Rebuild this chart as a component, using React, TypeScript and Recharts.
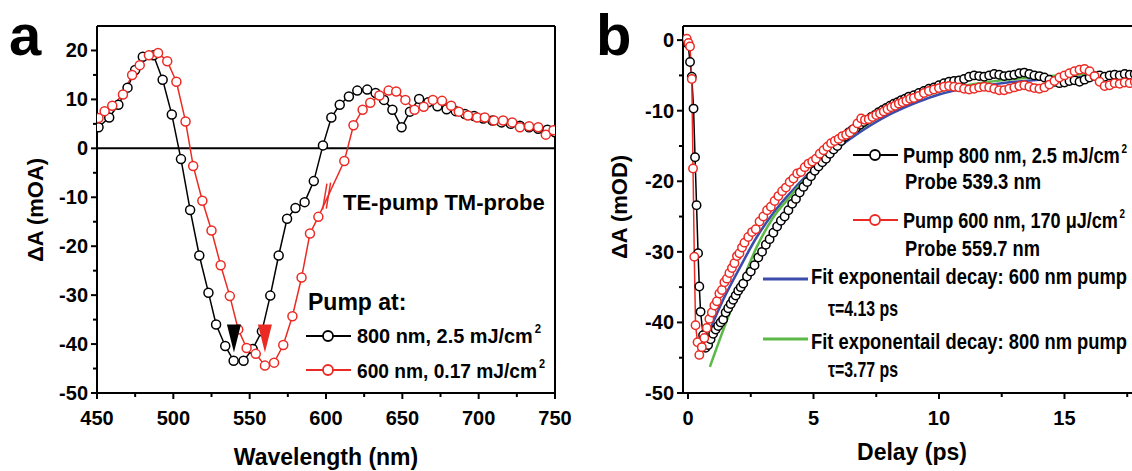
import React from 'react';
import { ComposedChart, Line, Scatter, XAxis, YAxis, ReferenceLine } from 'recharts';

const FONT = "'Liberation Sans', Arial, sans-serif";
const RED = '#ec2a24';
const BLUE = '#3a4dab';
const GREEN = '#5cb947';

// panel a: transient spectra
const wl800 = [451, 458, 464, 470, 475, 480, 487, 493, 499, 505, 511, 517, 523, 528, 534, 539.5, 546, 552, 558, 563.5, 569, 574.5, 580, 586, 592, 598, 603.5, 609, 615, 620.5, 627, 632.5, 638, 643.5, 649.5, 655, 661, 667, 673, 679, 685, 691, 697, 703, 709, 715, 721, 727, 733, 739, 745, 750];
const dA800 = [4.3, 6.3, 8.9, 12.4, 16, 18.7, 19, 14, 6.9, -2.2, -12.6, -21.9, -29.5, -36, -40.4, -43.4, -43.4, -41, -37.4, -30.1, -21.9, -14.4, -12.2, -11, -6.7, 0.6, 6.3, 8.9, 10.6, 11.8, 12, 11.3, 9.9, 7.9, 4.3, 7.5, 10.1, 9.4, 8.6, 8.0, 7.6, 7.0, 6.6, 6.1, 5.7, 5.3, 5.0, 4.6, 4.3, 4.0, 3.8, 3.3];
const wl600 = [451, 455, 460, 467, 473, 478, 484, 490, 496, 502, 508, 513, 519, 525, 531, 537, 542.5, 548, 554, 560, 566, 572, 578, 584, 589.5, 595, 612, 618, 624, 629, 635, 641, 646, 652, 658, 664, 670, 676, 682, 687, 693, 699, 704, 710, 716, 722, 727, 733, 739, 744, 749];
const dA600 = [6.2, 7.6, 8.7, 11, 15, 17, 19, 19.5, 17.8, 13.6, 5.5, -3.6, -10.7, -16.8, -23.9, -30.2, -37, -40.8, -42, -44.4, -43.8, -40.2, -34.3, -26.4, -17.4, -14, -2.6, 4.7, 7.9, 9.3, 10.8, 11.8, 11.6, 9.9, 7.9, 8.5, 9.9, 9.7, 8.7, 7.5, 6.7, 6.3, 6.3, 5.7, 5.7, 5.3, 4.3, 4.5, 4.3, 2.8, 3.7];
const probeWl = [539.7, 560];
const probeTop = [-36, -36];

// panel b: kinetics (delay ps, signal mOD)
const t800 = [0, 0.08, 0.15, 0.22, 0.28, 0.34, 0.4, 0.45, 0.5, 0.6, 0.7, 0.8, 0.9, 1.0, 1.1, 1.2, 1.3, 1.4, 1.5, 1.6, 1.7, 1.8, 1.9, 2.0, 2.1, 2.2, 2.35, 2.5, 2.65, 2.8, 2.95, 3.1, 3.25, 3.4, 3.55, 3.7, 3.85, 4.0, 4.15, 4.3, 4.45, 4.6, 4.75, 4.9, 5.05, 5.2, 5.35, 5.5, 5.65, 5.8, 5.95, 6.1, 6.25, 6.4, 6.55, 6.7, 6.85, 7.0, 7.15, 7.3, 7.45, 7.6, 7.75, 7.9, 8.05, 8.2, 8.35, 8.5, 8.65, 8.8, 9.0, 9.2, 9.4, 9.6, 9.8, 10.0, 10.2, 10.4, 10.6, 10.8, 11.0, 11.2, 11.4, 11.6, 11.8, 12.0, 12.2, 12.4, 12.6, 12.8, 13.0, 13.2, 13.4, 13.6, 13.8, 14.0, 14.2, 14.4, 14.6, 14.8, 15.0, 15.2, 15.4, 15.6, 15.8, 16.0, 16.2, 16.4, 16.6, 16.8, 17.0, 17.2, 17.4, 17.6, 17.8];
const s800 = [-0.5, -3.1, -5.2, -9.7, -16.6, -23.4, -30.2, -34.9, -38.5, -41.8, -43.6, -43.2, -42.4, -41.6, -41.0, -40.5, -40.0, -39.6, -38.6, -38.0, -37.4, -36.8, -36.2, -35.5, -35.0, -34.5, -33.5, -32.8, -31.9, -30.8, -30.0, -29.0, -28.2, -27.3, -26.4, -25.6, -25.0, -24.1, -23.2, -22.5, -21.6, -20.8, -20.1, -19.3, -18.5, -17.9, -17.3, -16.8, -16.1, -15.5, -15.0, -14.3, -13.7, -13.1, -12.7, -12.4, -12.0, -11.6, -11.3, -10.9, -10.6, -10.2, -9.9, -9.6, -9.3, -9.0, -8.8, -8.5, -8.3, -8.0, -7.8, -7.5, -7.2, -6.9, -6.7, -6.4, -6.1, -5.9, -5.8, -5.7, -5.5, -5.2, -5.0, -5.1, -5.2, -5.0, -4.8, -4.9, -5.1, -5.0, -4.9, -4.7, -4.6, -4.8, -5.0, -5.1, -5.3, -5.6, -5.9, -6.1, -6.0, -5.8, -5.7, -5.9, -5.6, -5.3, -5.1, -5.0, -5.2, -5.0, -4.9, -5.0, -4.8, -4.9, -4.8];
const t600 = [-0.05, 0.02, 0.08, 0.15, 0.2, 0.25, 0.3, 0.38, 0.45, 0.55, 0.65, 0.75, 0.85, 0.95, 1.05, 1.15, 1.25, 1.35, 1.45, 1.55, 1.65, 1.75, 1.85, 1.95, 2.05, 2.15, 2.25, 2.4, 2.55, 2.7, 2.85, 3.0, 3.15, 3.3, 3.45, 3.6, 3.75, 3.9, 4.05, 4.2, 4.35, 4.5, 4.65, 4.8, 4.95, 5.1, 5.25, 5.4, 5.55, 5.7, 5.85, 6.0, 6.15, 6.3, 6.45, 6.6, 6.75, 6.9, 7.05, 7.2, 7.35, 7.5, 7.65, 7.8, 7.95, 8.1, 8.25, 8.4, 8.55, 8.7, 8.85, 9.0, 9.2, 9.4, 9.6, 9.8, 10.0, 10.2, 10.4, 10.6, 10.8, 11.0, 11.2, 11.4, 11.6, 11.8, 12.0, 12.2, 12.4, 12.6, 12.8, 13.0, 13.2, 13.4, 13.6, 13.8, 14.0, 14.2, 14.4, 14.6, 14.8, 15.0, 15.2, 15.4, 15.6, 15.8, 16.0, 16.2, 16.4, 16.6, 16.8, 17.0, 17.2, 17.4, 17.6, 17.8];
const s600 = [0.2, -0.4, -0.9, -5.5, -18.2, -30.7, -40.4, -42.8, -44.6, -43.5, -42.2, -40.8, -39.5, -38.6, -37.6, -37.0, -35.9, -35.4, -34.3, -33.8, -33.0, -32.3, -31.6, -30.6, -30.2, -29.4, -28.7, -27.9, -27.2, -26.8, -25.7, -25.0, -24.1, -23.6, -22.8, -22.1, -21.4, -20.9, -20.1, -19.6, -18.9, -18.7, -18.0, -17.5, -17.2, -16.8, -16.1, -15.6, -15.1, -14.6, -14.3, -14.0, -13.6, -13.4, -13.1, -12.6, -11.8, -11.1, -11.3, -11.2, -10.9, -10.6, -10.4, -10.1, -9.8, -9.5, -9.3, -9.0, -8.8, -8.6, -8.3, -8.2, -7.9, -7.5, -7.2, -7.0, -6.8, -6.6, -6.5, -6.6, -6.7, -6.9, -7.0, -6.9, -6.7, -6.6, -6.7, -6.9, -7.1, -7.1, -6.9, -6.7, -6.5, -6.4, -6.6, -6.8, -6.9, -6.7, -6.3, -5.8, -5.3, -5.0, -4.7, -4.4, -4.2, -4.1, -4.4, -5.1, -5.9, -6.5, -6.4, -6.1, -6.2, -6.0, -6.1, -5.9];
const tFit = [0.87, 1.4, 2.07, 2.74, 3.4, 4.06, 5.37, 6.7, 8.0, 9.2, 10.0, 11.3, 12.5, 14.0, 16.0, 17.8];
const fit600 = [-41.1, -36.8, -32.2, -27.9, -24.5, -21.7, -17.0, -13.4, -10.6, -8.7, -7.7, -6.7, -6.1, -5.6, -5.2, -5.0];
const fit800 = [-46.3, -41.1, -35.0, -29.3, -25.1, -22.2, -17.0, -13.0, -10.1, -8.2, -7.3, -6.3, -5.7, -5.2, -4.8, -4.6];

const ticksAX = [450, 475, 500, 525, 550, 575, 600, 625, 650, 675, 700, 725, 750];
const ticksAY = [-50, -45, -40, -35, -30, -25, -20, -15, -10, -5, 0, 5, 10, 15, 20];
const ticksBX = [0, 2.5, 5, 7.5, 10, 12.5, 15, 17.5, 20];
const ticksBY = [-50, -45, -40, -35, -30, -25, -20, -15, -10, -5, 0];

const pairs = (xs: number[], ys: number[]) => xs.map((x, i) => ({ x, y: ys[i] }));

const tickText = { fontFamily: FONT, fontWeight: 700, fontSize: 20, fill: '#000' };

const xTick = (isMajor: (v: number) => boolean) => (p: any) => {
  const major = isMajor(p.payload.value);
  return (
    <g>
      <line x1={p.x} x2={p.x} y1={p.y} y2={p.y + (major ? 6 : 4)} stroke="#000" strokeWidth={2} />
      {major && (
        <text x={p.x} y={p.y + 32} textAnchor="middle" {...tickText}>{p.payload.value}</text>
      )}
    </g>
  );
};

const yTick = (isMajor: (v: number) => boolean) => (p: any) => {
  const major = isMajor(p.payload.value);
  return (
    <g>
      <line x1={p.x} x2={p.x - (major ? 6 : 4)} y1={p.y} y2={p.y} stroke="#000" strokeWidth={2} />
      {major && (
        <text x={p.x - 9} y={p.y + 7} textAnchor="end" {...tickText}>{p.payload.value}</text>
      )}
    </g>
  );
};

const triangle = (p: any) => (
  <path d={`M${p.cx - 7},${p.cy} L${p.cx + 7},${p.cy} L${p.cx},${p.cy + 28} Z`} fill={p.payload.color} />
);

const dot = (c: string, r = 4.5) => ({ r, fill: '#fff', stroke: c, strokeWidth: 1.5 });
const axisLine = { stroke: '#000', strokeWidth: 2 };

const LegendSym = ({ x, y, color }: { x: number; y: number; color: string }) => (
  <g>
    <line x1={x} x2={x + 45} y1={y} y2={y} stroke={color} strokeWidth={2} />
    <circle cx={x + 22} cy={y} r={5} fill="#fff" stroke={color} strokeWidth={1.8} />
  </g>
);

const bold = { fontFamily: FONT, fontWeight: 700, fill: '#000' };

// condensed bold text: squeezed horizontally to the width it has in the figure
const Narrow = ({ x, y, w, size, sq = 0.84, sup, children }: { x: number; y: number; w: number; size: number; sq?: number; sup?: boolean; children: string }) => (
  <text transform={`translate(${x},${y}) scale(${sq},1)`} fontSize={size}
    textLength={w / sq} lengthAdjust="spacingAndGlyphs" {...bold}>
    {children}
    {sup && <tspan fontSize={12} dx={2} dy={-10}>2</tspan>}
  </text>
);

export default function App() {
  const specA = pairs(wl800, dA800);
  const specB = pairs(wl600, dA600);
  const marks = probeWl.map((x, i) => ({ x, y: probeTop[i], color: i === 0 ? '#000' : RED }));
  return (
    <div style={{ position: 'absolute', left: 0, top: 0, width: 1132, height: 471, overflow: 'hidden', background: '#fff' }}>
      <div style={{ position: 'absolute', left: 0, top: 0 }}>
        <ComposedChart width={580} height={471} margin={{ top: 26, right: 25, bottom: 0, left: 0 }}>
          <XAxis type="number" dataKey="x" domain={[450, 750]} ticks={ticksAX} interval={0} height={78}
            axisLine={axisLine} tickLine={false} tickSize={0} tickMargin={0}
            tick={xTick((v) => v % 50 === 0)} allowDataOverflow />
          <YAxis type="number" domain={[-50, 25]} ticks={ticksAY} interval={0} width={97}
            axisLine={axisLine} tickLine={false} tickSize={0} tickMargin={0}
            tick={yTick((v) => v % 10 === 0)} allowDataOverflow />
          <ReferenceLine y={25} stroke="#000" strokeWidth={2} />
          <ReferenceLine x={750} stroke="#000" strokeWidth={2} />
          <ReferenceLine y={0} stroke="#000" strokeWidth={2} />
          <Line data={specA} dataKey="y" stroke="#000" strokeWidth={1.5} dot={dot('#000')} activeDot={false} isAnimationActive={false} />
          <Line data={specB} dataKey="y" stroke={RED} strokeWidth={1.5} dot={dot(RED)} activeDot={false} isAnimationActive={false} />
          <ReferenceLine segment={[{ x: 597.8, y: -12.5 }, { x: 600.6, y: -7.2 }]} stroke={RED} strokeWidth={1.5} />
          <ReferenceLine segment={[{ x: 600.2, y: -12.3 }, { x: 603.0, y: -7.0 }]} stroke={RED} strokeWidth={1.5} />
          <Scatter data={marks} dataKey="y" shape={triangle} isAnimationActive={false} />
        </ComposedChart>
      </div>
      <div style={{ position: 'absolute', left: 580, top: 0 }}>
        <ComposedChart width={620} height={471} margin={{ top: 26, right: 0, bottom: 0, left: 0 }}>
          <XAxis type="number" dataKey="x" domain={[-0.2, 20.4]} ticks={ticksBX} interval={0} height={78}
            axisLine={axisLine} tickLine={false} tickSize={0} tickMargin={0}
            tick={xTick((v) => v % 5 === 0 && v < 20)} allowDataOverflow />
          <YAxis type="number" domain={[-50, 2]} ticks={ticksBY} interval={0} width={103}
            axisLine={axisLine} tickLine={false} tickSize={0} tickMargin={0}
            tick={yTick((v) => v % 10 === 0)} allowDataOverflow />
          <ReferenceLine y={2} stroke="#000" strokeWidth={2} />
          <Line data={pairs(t800, s800)} dataKey="y" stroke="#000" strokeWidth={1.5} dot={dot('#000', 4.2)} activeDot={false} isAnimationActive={false} />
          <Line data={pairs(t600, s600)} dataKey="y" stroke={RED} strokeWidth={1.5} dot={dot(RED, 4.2)} activeDot={false} isAnimationActive={false} />
          <Line data={pairs(tFit, fit600)} dataKey="y" type="monotone" stroke={BLUE} strokeWidth={2.5} dot={false} activeDot={false} isAnimationActive={false} />
          <Line data={pairs(tFit, fit800)} dataKey="y" type="monotone" stroke={GREEN} strokeWidth={2.5} dot={false} activeDot={false} isAnimationActive={false} />
        </ComposedChart>
      </div>
      <svg width={1132} height={471} style={{ position: 'absolute', left: 0, top: 0, pointerEvents: 'none' }}>
        <text x={9} y={55} fontSize={58} {...bold}>a</text>
        <text x={596} y={55} fontSize={58} {...bold}>b</text>
        <text transform="translate(43,210) rotate(-90)" textAnchor="middle" fontSize={22} {...bold}>ΔA (mOA)</text>
        <text x={326} y={465} textAnchor="middle" fontSize={23} {...bold}>Wavelength (nm)</text>
        <text transform="translate(627,207) rotate(-90)" textAnchor="middle" fontSize={22} {...bold}>ΔA (mOD)</text>
        <text x={912} y={460} textAnchor="middle" fontSize={23} {...bold}>Delay (ps)</text>

        <text x={343} y={210} fontSize={22} {...bold}>TE-pump TM-probe</text>
        <text x={308} y={310} fontSize={23} {...bold}>Pump at:</text>
        <LegendSym x={306} y={336} color="#000" />
        <Narrow x={357} y={343} w={184} size={21} sup>800 nm, 2.5 mJ/cm</Narrow>
        <LegendSym x={306} y={370} color={RED} />
        <Narrow x={357} y={378} w={188} size={21} sup>600 nm, 0.17 mJ/cm</Narrow>

        <LegendSym x={853} y={155} color="#000" />
        <Narrow x={903} y={163} w={224} size={22} sup>Pump 800 nm, 2.5 mJ/cm</Narrow>
        <Narrow x={905} y={189} w={136} size={22}>Probe 539.3 nm</Narrow>
        <LegendSym x={853} y={220} color={RED} />
        <Narrow x={903} y={228} w={222} size={22} sq={0.76} sup>Pump 600 nm, 170 μJ/cm</Narrow>
        <Narrow x={905} y={256} w={135} size={22}>Probe 559.7 nm</Narrow>
        <line x1={763} x2={808} y1={279} y2={279} stroke={BLUE} strokeWidth={3} />
        <Narrow x={811} y={284} w={316} size={22}>Fit exponentail decay: 600 nm pump</Narrow>
        <Narrow x={828} y={316} w={70} size={22}>τ=4.13 ps</Narrow>
        <line x1={763} x2={808} y1={339} y2={339} stroke={GREEN} strokeWidth={3} />
        <Narrow x={811} y={349} w={316} size={22}>Fit exponentail decay: 800 nm pump</Narrow>
        <Narrow x={828} y={377} w={70} size={22}>τ=3.77 ps</Narrow>
      </svg>
    </div>
  );
}
